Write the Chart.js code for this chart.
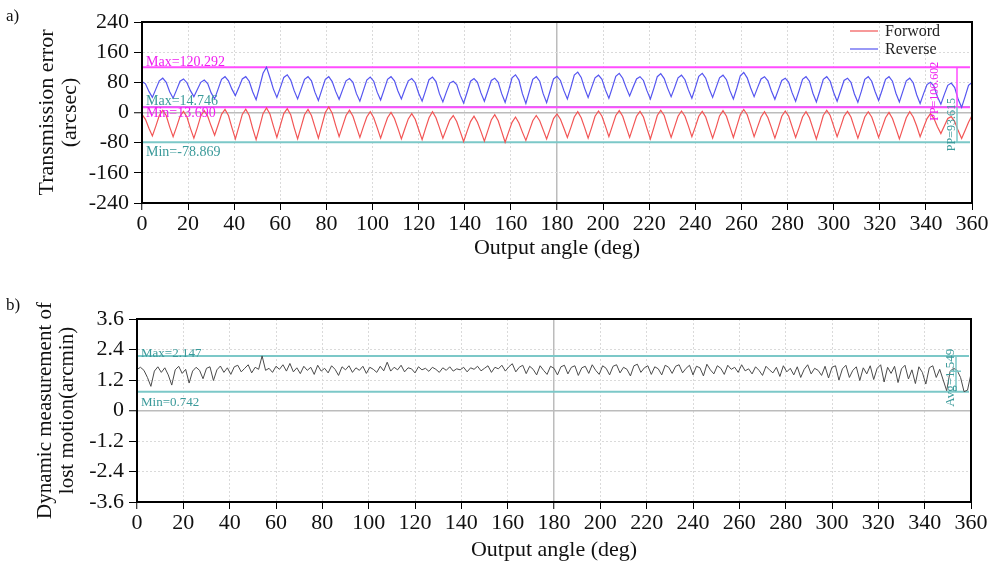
<!DOCTYPE html>
<html lang="en">
<head>
<meta charset="UTF-8">
<title>Transmission error and lost motion</title>
<script src="https://cdn.jsdelivr.net/npm/chart.js"></script>
<style>
  body { margin: 0; background: #fff; width: 996px; height: 562px; position: relative; overflow: hidden;
         font-family: "Liberation Serif", "Times New Roman", serif; }
  canvas { position: absolute; left: 0; }
  #chartA { top: 0; }
  #chartB { top: 290px; }
  .tag { position: absolute; left: 6px; font-size: 17px; color: #111; z-index: 2; }
</style>
</head>
<body>
<canvas id="chartA" width="996" height="290"></canvas>
<canvas id="chartB" width="996" height="272"></canvas>
<div class="tag" style="top:6px">a)</div>
<div class="tag" style="top:295px">b)</div>
<script>
// encoder sampling, deg between stored samples
const angleStep = 1.5;

const xTicks = [0, 20, 40, 60, 80, 100, 120, 140, 160, 180, 200, 220, 240, 260, 280, 300, 320, 340, 360];
const yTicksA = [-240, -160, -80, 0, 80, 160, 240];
const yTicksB = [-3.6, -2.4, -1.2, 0, 1.2, 2.4, 3.6];

// transmission error, arcsec (forward run)
const forward = [
  -5, -18, -42, -62, -36, -8,    6, -8, -38, -64, -38, -10,    3, -12, -42, -68, -40, -9,    5, -10, -36, -60, -33, -5,
  8, -8, -40, -70, -38, -5,      9, -8, -42, -72, -38, -3,     12, -4, -36, -66, -34, -3,    10, -6, -40, -70, -38, -6,
  8, -8, -38, -68, -34, 0,       14.746, -2, -34, -64, -36, -8, 6, -10, -38, -66, -38, -12, 2, -14, -40, -68, -40, -14,
  0, -16, -42, -70, -43, -17,    -3, -18, -45, -72, -42, -14,  2, -14, -40, -68, -44, -20,   -8, -24, -50, -77, -50, -24,
  -10, -26, -50, -76, -48, -20,  -6, -22, -50, -78.869, -52, -26, -12, -28, -52, -74, -48, -22, -8, -22, -46, -70, -44, -16,
  -4, -18, -42, -66, -40, -12,   2, -14, -40, -68, -40, -10,   4, -10, -36, -64, -36, -8,    5, -10, -38, -66, -38, -10,
  3, -12, -42, -70, -40, -8,     6, -8, -38, -66, -38, -10,    4, -10, -36, -64, -38, -10,   3, -12, -40, -68, -40, -9,
  5, -10, -38, -66, -36, -6,     8, -6, -34, -64, -38, -12,    2, -14, -40, -68, -40, -10,   4, -10, -38, -66, -40, -12,
  2, -14, -42, -70, -40, -8,     6, -8, -36, -64, -38, -10,    3, -12, -40, -68, -40, -12,   2, -12, -38, -66, -40, -14,
  0, -16, -42, -70, -42, -14,    2, -12, -36, -64, -40, -16,   -3, -16, -38, -56, -36, -16,  -11, -24, -48, -69, -48, -26,
  -8
];

// transmission error, arcsec (reverse run)
const reverse = [
  82, 76, 56, 40, 62, 84,    91, 80, 55, 38, 60, 83,    89, 79, 58, 42, 61, 80,    86, 77, 52, 36, 62, 88,
  95, 84, 62, 45, 66, 89,    95, 83, 55, 34, 68, 104,   120.292, 92, 62, 40, 66, 93, 100, 86, 58, 36, 62, 88,
  95, 84, 54, 32, 60, 88,    95, 82, 56, 35, 60, 84,    90, 80, 50, 30, 58, 86,    94, 83, 54, 33, 60, 88,
  95, 84, 57, 36, 61, 84,    90, 79, 51, 30, 58, 87,    94, 82, 50, 28, 54, 78,    83, 74, 46, 25, 53, 83,
  90, 80, 52, 30, 57, 85,    91, 80, 50, 27, 58, 92,    100, 86, 50, 24, 56, 88,   95, 83, 50, 26, 57, 89,
  96, 85, 58, 36, 66, 99,    107, 93, 64, 40, 66, 92,   99, 88, 60, 38, 66, 96,    104, 91, 66, 44, 67, 89,
  95, 85, 58, 36, 64, 95,    103, 90, 64, 42, 66, 92,   99, 87, 60, 38, 66, 96,    104, 91, 63, 40, 66, 92,
  99, 87, 58, 36, 65, 97,    106, 92, 65, 42, 66, 89,   95, 84, 57, 35, 60, 85,    91, 80, 52, 30, 58, 88,
  95, 83, 51, 28, 57, 88,    95, 83, 53, 30, 57, 85,    91, 80, 49, 27, 56, 88,    95, 83, 55, 32, 59, 88,
  95, 83, 51, 28, 56, 84,    91, 79, 47, 24, 50, 74,    80, 70, 42, 22, 48, 72,    78, 66, 35, 13.69, 42, 72,
  80
];

// dynamic lost motion, arcmin
const lostMotion = [
  1.62, 1.70, 1.58, 1.30, 0.95, 1.55, 1.72, 1.50, 1.68, 1.40, 1.00, 1.60,
  1.74, 1.46, 1.62, 1.08, 1.55, 1.70, 1.58, 1.25, 1.66, 1.72, 1.18, 1.60,
  1.75, 1.50, 1.68, 1.42, 1.72, 1.78, 1.52, 1.66, 1.80, 1.48, 1.70, 1.62,
  2.147, 1.58, 1.66, 1.50, 1.74, 1.62, 1.80, 1.55, 1.85, 1.52, 1.68, 1.45,
  1.74, 1.58, 1.70, 1.42, 1.78, 1.55, 1.66, 1.48, 1.76, 1.62, 1.38, 1.72,
  1.60, 1.76, 1.50, 1.68, 1.58, 1.74, 1.46, 1.70, 1.62, 1.50, 1.74, 1.56,
  1.90, 1.55, 1.70, 1.60, 1.78, 1.52, 1.68, 1.64, 1.48, 1.72, 1.60, 1.66,
  1.54, 1.70, 1.62, 1.50, 1.68, 1.58, 1.72, 1.55, 1.64, 1.60, 1.70, 1.52,
  1.68, 1.62, 1.74, 1.56, 1.66, 1.76, 1.50, 1.70, 1.64, 1.78, 1.55, 1.72,
  1.84, 1.52, 1.70, 1.78, 1.45, 1.74, 1.62, 1.40, 1.76, 1.58, 1.42, 1.74,
  1.66, 1.40, 1.72, 1.78, 1.44, 1.70, 1.76, 1.38, 1.68, 1.74, 1.46, 1.80,
  1.58, 1.42, 1.76, 1.66, 1.40, 1.74, 1.80, 1.48, 1.70, 1.62, 1.36, 1.76,
  1.82, 1.50, 1.68, 1.76, 1.42, 1.72, 1.64, 1.40, 1.78, 1.70, 1.46, 1.74,
  1.80, 1.48, 1.66, 1.78, 1.40, 1.74, 1.68, 1.36, 1.82, 1.60, 1.44, 1.76,
  1.66, 1.42, 1.78, 1.62, 1.70, 1.50, 1.80, 1.56, 1.64, 1.44, 1.72, 1.58,
  1.38, 1.74, 1.60, 1.48, 1.70, 1.34, 1.76, 1.52, 1.66, 1.40, 1.72, 1.30,
  1.62, 1.80, 1.44, 1.66, 1.58, 1.38, 1.74, 1.28, 1.70, 1.76, 1.20, 1.64,
  1.78, 1.30, 1.58, 1.72, 1.18, 1.68, 1.44, 1.76, 1.22, 1.66, 1.80, 1.12,
  1.70, 1.46, 1.74, 1.10, 1.64, 1.78, 1.24, 1.60, 1.06, 1.72, 1.50, 1.04,
  1.68, 1.76, 1.30, 1.62, 1.20, 0.78, 1.55, 1.66, 1.58, 1.30, 0.742, 0.80,
  1.45
];

// statistics printed on the plots
const revMax = 120.292, revMin = 13.690;
const fwdMax = 14.746, fwdMin = -78.869;
const lmMax = 2.147, lmMin = 0.742, lmAvg = 1.549;

const SERIF = '"Liberation Serif", "Times New Roman", serif';
Chart.defaults.font.family = SERIF;
Chart.defaults.color = '#111';

const MAGENTA = '#ff4dff', MAGENTA_TXT = '#f020f0';
const TEAL = '#7cc8c8', TEAL_TXT = '#3a9a9a';

const toPoints = arr => arr.map((v, i) => ({ x: i * angleStep, y: v }));

const isMain = c => c.tick && (c.tick.value === 0 || c.tick.value === 180);
const gridColor = c => isMain(c) ? '#bcbcbc' : '#dadada';
const gridWidth = c => isMain(c) ? 1.5 : 1;
const gridDash = c => isMain(c) ? [] : [2, 2];

// horizontal stat lines, their captions, the PP/Avg brackets, frame and legend
function overlay(cfg) {
  return {
    id: 'overlay',
    beforeDatasetsDraw(chart) {
      const { ctx, chartArea: a, scales: { y } } = chart;
      ctx.save();
      cfg.lines.forEach(l => {
        const py = y.getPixelForValue(l.value);
        ctx.strokeStyle = l.color;
        ctx.lineWidth = 2;
        ctx.beginPath();
        ctx.moveTo(a.left, py);
        ctx.lineTo(a.right - 2, py);
        ctx.stroke();
      });
      ctx.restore();
    },
    afterDatasetsDraw(chart) {
      const { ctx, chartArea: a, scales: { y } } = chart;
      ctx.save();
      ctx.font = cfg.fontSize + 'px ' + SERIF;
      ctx.textBaseline = 'alphabetic';
      ctx.textAlign = 'left';
      cfg.lines.forEach(l => {
        ctx.fillStyle = l.textColor;
        ctx.fillText(l.label, a.left + 4, y.getPixelForValue(l.value) + l.dy);
      });

      const bx = a.right - 15;
      cfg.spans.forEach(s => {
        const y1 = y.getPixelForValue(s.from), y2 = y.getPixelForValue(s.to);
        ctx.strokeStyle = s.color;
        ctx.lineWidth = 1.5;
        ctx.beginPath();
        ctx.moveTo(bx, y1);
        ctx.lineTo(bx, y2);
        if (s.mark !== undefined) {
          const ym = y.getPixelForValue(s.mark);
          ctx.moveTo(bx - 6, ym);
          ctx.lineTo(bx + 5, ym);
        }
        ctx.stroke();

        ctx.save();
        ctx.translate(a.right - s.textDx, (y1 + y2) / 2 + s.dy);
        ctx.rotate(-Math.PI / 2);
        ctx.font = s.fontSize + 'px ' + SERIF;
        ctx.textAlign = 'center';
        ctx.textBaseline = 'middle';
        ctx.fillStyle = s.textColor;
        ctx.fillText(s.label, 0, 0);
        ctx.restore();
      });
      ctx.restore();
    },
    afterDraw(chart) {
      const { ctx, chartArea: a } = chart;
      ctx.save();
      ctx.strokeStyle = '#000';
      ctx.lineWidth = 2;
      ctx.strokeRect(a.left, a.top, a.right - a.left, a.bottom - a.top);

      if (cfg.legend) {
        ctx.font = '16px ' + SERIF;
        ctx.textBaseline = 'middle';
        ctx.textAlign = 'left';
        chart.data.datasets.forEach((ds, i) => {
          const ly = 31 + i * 18;
          ctx.strokeStyle = ds.borderColor;
          ctx.lineWidth = 1.2;
          ctx.beginPath();
          ctx.moveTo(850, ly);
          ctx.lineTo(878, ly);
          ctx.stroke();
          ctx.fillStyle = '#222';
          ctx.fillText(ds.label, 885, ly + 1);
        });
      }
      ctx.restore();
    }
  };
}

function makeChart(id, o) {
  return new Chart(document.getElementById(id), {
    type: 'line',
    data: { datasets: o.datasets },
    options: {
      responsive: false,
      animation: false,
      devicePixelRatio: 1,
      layout: { padding: o.padding },
      plugins: { legend: { display: false }, tooltip: { enabled: false } },
      elements: { point: { radius: 0 }, line: { tension: 0 } },
      scales: {
        x: {
          type: 'linear', min: 0, max: 360,
          afterBuildTicks: s => { s.ticks = xTicks.map(v => ({ value: v })); },
          afterFit: s => { s.height = 60; },
          ticks: { font: { size: 22, lineHeight: 1 }, padding: 3, maxRotation: 0, autoSkip: false,
                   callback: v => String(v) },
          grid: { color: gridColor, lineWidth: gridWidth, tickLength: 7, tickColor: '#000', tickWidth: 1 },
          border: { display: true, color: '#000', width: 2, dash: gridDash },
          title: { display: true, text: 'Output angle (deg)', font: { size: 22, lineHeight: 1 },
                   padding: { top: 0, bottom: o.xTitlePad } }
        },
        y: {
          type: 'linear', min: o.yTicks[0], max: o.yTicks[o.yTicks.length - 1],
          afterBuildTicks: s => { s.ticks = o.yTicks.map(v => ({ value: v })); },
          afterFit: s => { s.width = o.yWidth; },
          ticks: { font: { size: 22, lineHeight: 1 }, padding: 5, autoSkip: false,
                   callback: v => String(v) },
          grid: { color: gridColor, lineWidth: gridWidth, tickLength: 8, tickColor: '#000', tickWidth: 1 },
          border: { display: true, color: '#000', width: 2, dash: gridDash },
          title: { display: true, text: o.yTitle, font: { size: o.yTitleSize, lineHeight: 1.05 },
                   padding: { top: o.yTitlePad, bottom: 0 } }
        }
      }
    },
    plugins: [overlay(o.overlay)]
  });
}

makeChart('chartA', {
  padding: { top: 22, left: 0, right: 24, bottom: 27 },
  yWidth: 142,
  yTicks: yTicksA,
  yTitle: ['Transmission error', '(arcsec)'],
  yTitleSize: 22,
  yTitlePad: 36,
  xTitlePad: 4,
  datasets: [
    { label: 'Forword', data: toPoints(forward), borderColor: '#f25555', borderWidth: 1.2 },
    { label: 'Reverse', data: toPoints(reverse), borderColor: '#5555f0', borderWidth: 1.2 }
  ],
  overlay: {
    fontSize: 14,
    legend: true,
    lines: [
      { value: fwdMax, color: TEAL, textColor: TEAL_TXT, label: 'Max=' + fwdMax.toFixed(3), dy: -2 },
      { value: fwdMin, color: TEAL, textColor: TEAL_TXT, label: 'Min=' + fwdMin.toFixed(3), dy: 14 },
      { value: revMax, color: MAGENTA, textColor: MAGENTA_TXT, label: 'Max=' + revMax.toFixed(3), dy: -1 },
      { value: revMin, color: MAGENTA, textColor: MAGENTA_TXT, label: 'Min=' + revMin.toFixed(3), dy: 10 }
    ],
    spans: [
      { from: revMax, to: revMin, color: MAGENTA, textColor: MAGENTA_TXT, fontSize: 12,
        label: 'PP=' + (revMax - revMin).toFixed(3), textDx: 37, dy: 4 },
      { from: fwdMax, to: fwdMin, color: TEAL, textColor: TEAL_TXT, fontSize: 12,
        label: 'PP=' + (fwdMax - fwdMin).toFixed(3), textDx: 20, dy: 0 }
    ]
  }
});

makeChart('chartB', {
  padding: { top: 29, left: 0, right: 25, bottom: 0 },
  yWidth: 137,
  yTicks: yTicksB,
  yTitle: ['Dynamic measurement of', 'lost motion(arcmin)'],
  yTitleSize: 21,
  yTitlePad: 34,
  xTitlePad: 1,
  datasets: [
    { label: 'Lost motion', data: toPoints(lostMotion), borderColor: '#4a4a4a', borderWidth: 1 }
  ],
  overlay: {
    fontSize: 13,
    legend: false,
    lines: [
      { value: lmMax, color: TEAL, textColor: TEAL_TXT, label: 'Max=' + lmMax.toFixed(3), dy: 1 },
      { value: lmMin, color: TEAL, textColor: TEAL_TXT, label: 'Min=' + lmMin.toFixed(3), dy: 14 }
    ],
    spans: [
      { from: lmMax, to: lmMin, mark: lmAvg, color: TEAL, textColor: TEAL_TXT, fontSize: 13,
        label: 'Avg=' + lmAvg.toFixed(3), textDx: 20, dy: 4 }
    ]
  }
});
</script>
</body>
</html>
